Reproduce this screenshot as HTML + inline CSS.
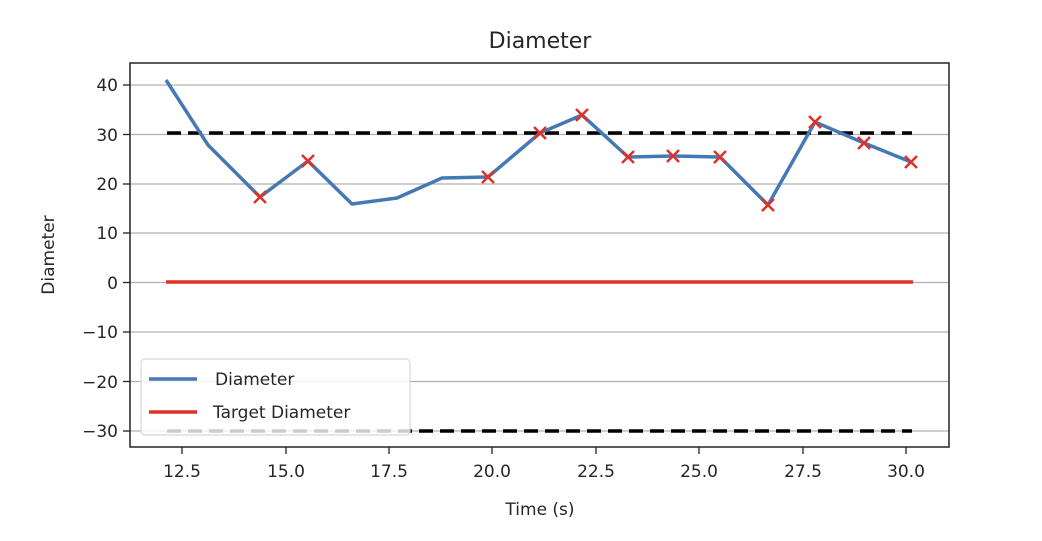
<!DOCTYPE html>
<html><head><style>body{margin:0;background:#fff}svg{display:block}text{font-family:"DejaVu Sans","Liberation Sans",sans-serif;fill:#262626}</style></head><body>
<svg width="1042" height="541" viewBox="0 0 1042 541" xmlns="http://www.w3.org/2000/svg">
<rect width="1042" height="541" fill="#fff"/>
<text x="540" y="48" font-size="22" text-anchor="middle">Diameter</text>
<g stroke="#b0b0b0" stroke-width="1.2">
<line x1="130" x2="949" y1="85" y2="85"/><line x1="130" x2="949" y1="134.5" y2="134.5"/><line x1="130" x2="949" y1="184" y2="184"/><line x1="130" x2="949" y1="233" y2="233"/><line x1="130" x2="949" y1="282.5" y2="282.5"/><line x1="130" x2="949" y1="332" y2="332"/><line x1="130" x2="949" y1="381.5" y2="381.5"/><line x1="130" x2="949" y1="431" y2="431"/>
</g>
<g stroke="#000" stroke-width="3.5" stroke-dasharray="14,7">
<line x1="167" x2="912" y1="133" y2="133"/><line x1="167" x2="912" y1="431" y2="431"/>
</g>
<line x1="166" x2="913" y1="282" y2="282" stroke="#e03127" stroke-width="3.5"/>
<polyline fill="none" stroke="#4479b4" stroke-width="3.5" stroke-linejoin="round" points="166,80 208,145 260,197 308,161 352,204 397,198 442,178 488,177 540,133 582,115 628,157 673,156 720,157 768,205 815,122 864,143 911,162"/>
<g stroke="#e03127" stroke-width="2.5">
<path d="M254,191l12,12M266,191l-12,12M302,155l12,12M314,155l-12,12M482,171l12,12M494,171l-12,12M534,127l12,12M546,127l-12,12M576,109l12,12M588,109l-12,12M622,151l12,12M634,151l-12,12M667,150l12,12M679,150l-12,12M714,151l12,12M726,151l-12,12M762,199l12,12M774,199l-12,12M809,116l12,12M821,116l-12,12M858,137l12,12M870,137l-12,12M905,156l12,12M917,156l-12,12"/>
</g>
<rect x="130" y="63" width="819" height="384" fill="none" stroke="#222" stroke-width="1.5"/>
<g stroke="#222" stroke-width="1.3">
<line x1="123" x2="130" y1="85" y2="85"/><line x1="123" x2="130" y1="134.5" y2="134.5"/><line x1="123" x2="130" y1="184" y2="184"/><line x1="123" x2="130" y1="233" y2="233"/><line x1="123" x2="130" y1="282.5" y2="282.5"/><line x1="123" x2="130" y1="332" y2="332"/><line x1="123" x2="130" y1="381.5" y2="381.5"/><line x1="123" x2="130" y1="431" y2="431"/>
<line x1="182" x2="182" y1="447" y2="454"/><line x1="286" x2="286" y1="447" y2="454"/><line x1="389" x2="389" y1="447" y2="454"/><line x1="492" x2="492" y1="447" y2="454"/><line x1="596" x2="596" y1="447" y2="454"/><line x1="699" x2="699" y1="447" y2="454"/><line x1="803" x2="803" y1="447" y2="454"/><line x1="906" x2="906" y1="447" y2="454"/>
</g>
<g font-size="17" text-anchor="end">
<text x="118" y="91">40</text><text x="118" y="141">30</text><text x="118" y="190">20</text><text x="118" y="239">10</text><text x="118" y="289">0</text><text x="118" y="338">−10</text><text x="118" y="388">−20</text><text x="118" y="437">−30</text>
</g>
<g font-size="17" text-anchor="middle">
<text x="182" y="477">12.5</text><text x="286" y="477">15.0</text><text x="389" y="477">17.5</text><text x="492" y="477">20.0</text><text x="596" y="477">22.5</text><text x="699" y="477">25.0</text><text x="803" y="477">27.5</text><text x="906" y="477">30.0</text>
</g>
<text x="540" y="515" font-size="17" text-anchor="middle">Time (s)</text>
<text transform="translate(54,255) rotate(-90)" font-size="17" text-anchor="middle">Diameter</text>
<rect x="141" y="359" width="269" height="76" rx="4" fill="#fff" fill-opacity="0.8" stroke="#d8d8d8" stroke-width="1.2"/>
<line x1="149" x2="197" y1="379" y2="379" stroke="#4479b4" stroke-width="3.5"/>
<line x1="149" x2="197" y1="412" y2="412" stroke="#e03127" stroke-width="3.5"/>
<text x="215" y="385" font-size="17">Diameter</text>
<text x="213" y="418" font-size="17">Target Diameter</text>
</svg>
</body></html>
